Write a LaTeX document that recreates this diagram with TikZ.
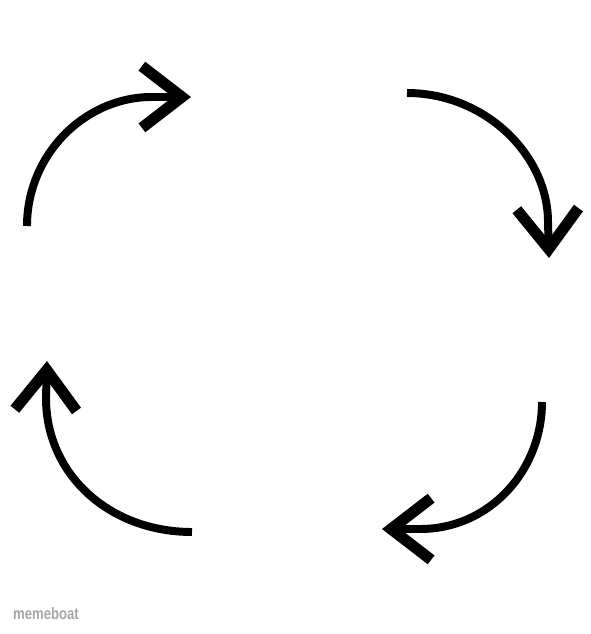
\documentclass[tikz,border=0pt]{standalone}
\usepackage{fontspec}
\setmainfont{Liberation Sans}
\usetikzlibrary{arrows.meta,bending}

\begin{document}
\begin{tikzpicture}[x=0.03cm, y=-0.03cm,
    cyc/.style={line width=6.8pt, line cap=butt,
        -{Straight Barb[length=1.2cm, width=1.85cm, line width=9.5pt]}}]
    \useasboundingbox (0,0) rectangle (591,634);

    % end points
    \coordinate (a1) at (27,226);  \coordinate (t1) at (191,97);
    \coordinate (a2) at (407,93);  \coordinate (t2) at (549,258);
    \coordinate (a3) at (542,402); \coordinate (t3) at (382,529);
    \coordinate (a4) at (192,532); \coordinate (t4) at (47,361);

    % arrows
    \draw[cyc] (a1) .. controls (27,155) and (84,98) .. (150,97) -- (t1);
    \draw[cyc] (a2) .. controls (485,93) and (548,155) .. (548,222) -- (t2);
    \draw[cyc] (a3) .. controls (542,470) and (490,529) .. (420,529) -- (t3);
    \draw[cyc] (a4) .. controls (110,532) and (46,475) .. (46,398) -- (t4);

    % watermark
    \node[anchor=west, xscale=0.8, transform shape, inner sep=0pt,
          font=\bfseries\fontsize{14}{14}\selectfont, text=gray!70] (wm) at (13,614) {memeboat};
\end{tikzpicture}
\end{document}
